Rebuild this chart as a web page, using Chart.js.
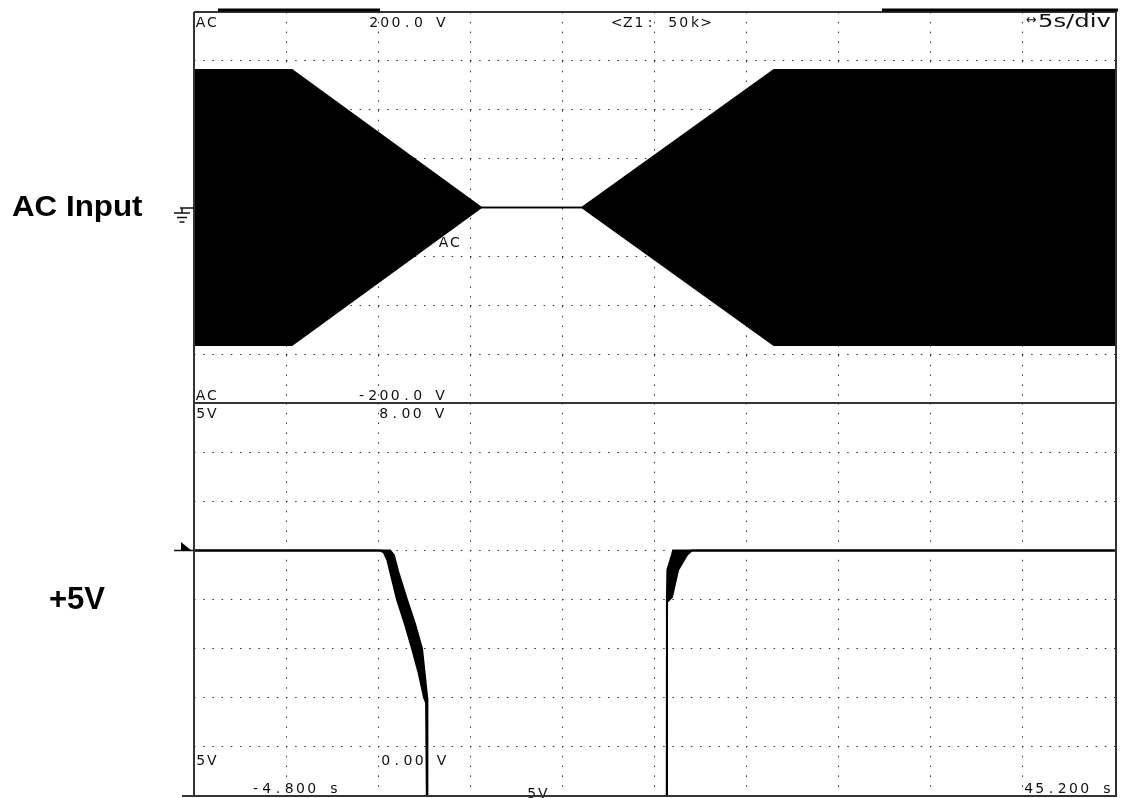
<!DOCTYPE html>
<html>
<head>
<meta charset="utf-8">
<script src="https://cdn.jsdelivr.net/npm/chart.js@4.4.1/dist/chart.umd.min.js"></script>
<style>
    html, body { margin: 0; padding: 0; background: #fff; }
    #wrap { position: relative; width: 1123px; height: 798px; }
    #wrap canvas { position: absolute; left: 0; top: 0; }
</style>
</head>
<body>
<div id="wrap">
    <canvas id="acChart" width="1123" height="798"></canvas>
    <canvas id="railChart" width="1123" height="798"></canvas>
</div>
<script>
    /* === DATA === */
    const TIME_START = -4.8;
    const TIME_PER_DIV = 5;
    const TIME_DIVS = 10;

    // AC input envelope (V) - the 50/60 Hz sine is too dense, so only its peaks
    const acTimes = [-4.8, 0.52, 10.81, 16.25, 26.68, 45.2];
    const acPeak = [141, 141, 0, 0, 141, 141];
    const acTrough = [-141, -141, 0, 0, -141, -141];

    // +5V rail, upper and lower edge of the drawn trace (V)
    const railHiTimes = [-4.8, 5.85, 6.05, 6.3, 6.76, 7.2, 7.58, 7.86, 7.87, 20.87, 20.875, 20.9, 21.15, 21.21, 45.2];
    const railHiVolts = [5, 5, 4.9, 4.55, 4.0, 3.5, 3.0, 2.0, 0, 0, 4.05, 4.6, 4.91, 5, 5];
    const railLoTimes = [-4.8, 5.3, 5.5, 5.7, 6.22, 6.65, 7.04, 7.4, 7.69, 7.8, 7.84, 20.87, 20.88, 21.15, 21.48, 21.97, 22.24, 45.2];
    const railLoVolts = [5, 5, 4.96, 4.8, 4.0, 3.5, 3.0, 2.5, 2.0, 1.9, 0, 0, 3.95, 4.05, 4.6, 4.91, 5, 5];

    // scope readouts
    const acRangeLabels = ["200.0 V", "-200.0 V"];
    const railRangeLabels = ["8.00 V", "0.00 V"];
    const timeLabels = ["-4.800 s", "45.200 s"];
    const channelNames = ["AC Input", "+5V"];

    /* === LAYOUT === */
    const FRAME = { left: 194, right: 1115, top: 12, mid: 403, bottom: 796 };
    const PITCH = 11.2;

    const xGridTimes = [];
    for (let i = 0; i <= TIME_DIVS; i++) xGridTimes.push(TIME_START + i * TIME_PER_DIV);

    const toPoints = (xs, ys) => xs.map((x, i) => ({ x, y: ys[i] }));

    const traceStyle = {
        borderColor: "#000",
        backgroundColor: "#000",
        pointRadius: 0,
        tension: 0,
    };

    function xScale() {
        return {
            type: "linear",
            min: TIME_START,
            max: TIME_START + TIME_DIVS * TIME_PER_DIV,
            afterBuildTicks: axis => { axis.ticks = xGridTimes.map(v => ({ value: v })); },
            ticks: { display: false },
            grid: { color: "#333", lineWidth: 1, drawTicks: false },
            border: { display: false, dash: [1.5, 8.3] },
        };
    }

    function yScale(min, max, step) {
        return {
            min, max,
            ticks: { display: false, stepSize: step },
            grid: { color: "#333", lineWidth: 1, drawTicks: false },
            border: { display: false, dash: [1.5, 7.7] },
        };
    }

    function baseOptions(padding, y) {
        return {
            responsive: false,
            animation: false,
            layout: { padding },
            plugins: { legend: { display: false }, tooltip: { enabled: false } },
            scales: { x: xScale(), y },
        };
    }

    /* === OVERLAY: frame, markers and readouts === */
    function drawMono(ctx, text, left, baseline) {
        [...text].forEach((ch, i) => ctx.fillText(ch, left + i * PITCH + PITCH / 2, baseline));
    }

    const scopeOverlay = {
        id: "scopeOverlay",
        afterDraw(chart) {
            const ctx = chart.ctx;
            ctx.save();

            // readouts
            ctx.fillStyle = "#111";
            ctx.textAlign = "center";
            ctx.textBaseline = "alphabetic";
            ctx.font = '14px "DejaVu Sans"';
            drawMono(ctx, "AC", 195, 27);
            drawMono(ctx, acRangeLabels[0], 368, 27);
            drawMono(ctx, "<Z1: 50k>", 611, 27);
            drawMono(ctx, "AC", 195, 400);
            drawMono(ctx, acRangeLabels[1], 356, 400);
            drawMono(ctx, "AC", 438, 247);
            drawMono(ctx, "5V", 195, 418);
            drawMono(ctx, railRangeLabels[0], 378, 418);
            drawMono(ctx, "5V", 195, 765);
            drawMono(ctx, railRangeLabels[1], 380, 765);
            drawMono(ctx, timeLabels[0], 250, 793);
            drawMono(ctx, "5V", 526, 798);
            drawMono(ctx, timeLabels[1], 1023, 793);

            ctx.textAlign = "left";
            ctx.font = '13px "DejaVu Sans"';
            ctx.fillText("↔", 1026, 24);
            ctx.save();
            ctx.translate(1038, 27);
            ctx.scale(1.35, 1);
            ctx.font = '18px "DejaVu Sans"';
            ctx.fillText("5s/div", 0, 0);
            ctx.restore();

            // channel names
            ctx.fillStyle = "#000";
            ctx.font = 'bold 29px "Liberation Sans"';
            ctx.save();
            ctx.translate(12, 216);
            ctx.scale(1.08, 1);
            ctx.fillText(channelNames[0], 0, 0);
            ctx.restore();
            ctx.font = 'bold 31px "Liberation Sans"';
            ctx.fillText(channelNames[1], 49, 609);

            // frame
            ctx.strokeStyle = "#333";
            ctx.lineWidth = 2;
            ctx.beginPath();
            ctx.moveTo(FRAME.left, FRAME.top); ctx.lineTo(FRAME.right + 2, FRAME.top);
            ctx.moveTo(FRAME.left, FRAME.top); ctx.lineTo(FRAME.left, FRAME.bottom);
            ctx.moveTo(FRAME.right + 1, FRAME.top); ctx.lineTo(FRAME.right + 1, FRAME.bottom);
            ctx.moveTo(FRAME.left, FRAME.mid); ctx.lineTo(FRAME.right + 1, FRAME.mid);
            ctx.moveTo(182, FRAME.bottom); ctx.lineTo(FRAME.right + 2, FRAME.bottom);
            ctx.stroke();
            ctx.fillStyle = "#000";
            ctx.fillRect(218, 8.5, 162, 3);
            ctx.fillRect(882, 8.5, 236, 3);

            // ground symbol for the AC channel
            ctx.strokeStyle = "#111";
            ctx.lineWidth = 1.5;
            ctx.beginPath();
            ctx.moveTo(180, 208); ctx.lineTo(FRAME.left, 208);
            ctx.moveTo(182, 208); ctx.lineTo(182, 213);
            ctx.moveTo(174, 213); ctx.lineTo(190, 213);
            ctx.moveTo(177, 217.5); ctx.lineTo(187, 217.5);
            ctx.moveTo(179.5, 222); ctx.lineTo(184.5, 222);
            ctx.stroke();

            // level marker for the +5V channel
            ctx.beginPath();
            ctx.moveTo(174, 550.5); ctx.lineTo(FRAME.left, 550.5);
            ctx.stroke();
            ctx.beginPath();
            ctx.moveTo(181, 542); ctx.lineTo(192, 551); ctx.lineTo(181, 551);
            ctx.closePath();
            ctx.fill();

            ctx.restore();
        },
    };

    /* === CHARTS === */
    const acChart = new Chart(document.getElementById("acChart"), {
        type: "line",
        data: {
            datasets: [
                { ...traceStyle, borderWidth: 1.5, data: toPoints(acTimes, acPeak), fill: "+1" },
                { ...traceStyle, borderWidth: 1.5, data: toPoints(acTimes, acTrough), fill: false },
            ],
        },
        options: baseOptions(
            { left: FRAME.left, top: FRAME.top, right: 1123 - FRAME.right, bottom: 798 - FRAME.mid },
            yScale(-200, 200, 50)
        ),
    });

    const railChart = new Chart(document.getElementById("railChart"), {
        type: "line",
        data: {
            datasets: [
                { ...traceStyle, borderWidth: 2, data: toPoints(railHiTimes, railHiVolts), fill: "+1" },
                { ...traceStyle, borderWidth: 2, data: toPoints(railLoTimes, railLoVolts), fill: false },
            ],
        },
        options: baseOptions(
            { left: FRAME.left, top: FRAME.mid, right: 1123 - FRAME.right, bottom: 798 - FRAME.bottom },
            yScale(0, 8, 1)
        ),
        plugins: [scopeOverlay],
    });
</script>
</body>
</html>
